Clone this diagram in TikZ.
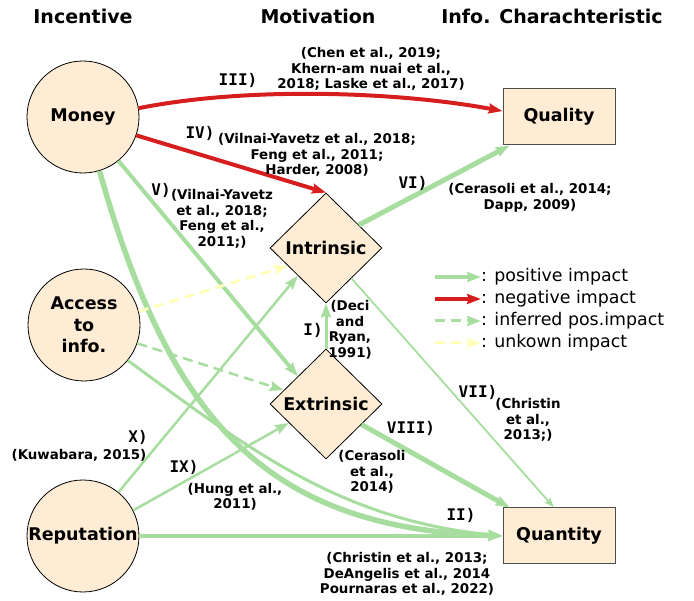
\documentclass[tikz,border=0pt]{standalone}
\usepackage{fontspec}
\setmainfont{DejaVu Sans}
\newfontfamily\numfont{DejaVu Sans Mono}
\usetikzlibrary{shapes.geometric,arrows.meta}
\definecolor{posgreen}{RGB}{168,221,160}
\definecolor{negred}{RGB}{214,30,30}
\definecolor{unkyellow}{RGB}{255,255,185}
\definecolor{boxfill}{RGB}{255,236,212}

\begin{document}
\begin{tikzpicture}[x=1pt,y=-1pt,
	incentive/.style={circle,draw=black,line width=0.8pt,fill=boxfill,minimum size=112pt,inner sep=-4pt,align=center,font=\bfseries\fontsize{17.5}{21.5}\selectfont},
	motive/.style={diamond,aspect=1,draw=black,line width=0.8pt,fill=boxfill,minimum width=112pt,minimum height=110pt,inner sep=0pt,font=\bfseries\fontsize{17.5}{21}\selectfont},
	infobox/.style={rectangle,draw=black!70,line width=1pt,fill=boxfill,minimum width=112pt,minimum height=56pt,font=\bfseries\fontsize{17.5}{21}\selectfont},
	header/.style={font=\bfseries\fontsize{19}{23}\selectfont},
	refs/.style={align=center,font=\bfseries\fontsize{13.4}{15.5}\selectfont},
	num/.style={font=\numfont\bfseries\fontsize{16}{19}\selectfont},
	legtext/.style={anchor=west,inner sep=0pt,font=\fontsize{17.4}{20}\selectfont},
	impacttip/.style={-{Stealth[length=14pt,width=10pt,inset=2pt]}},
	posimp/.style={draw=posgreen,impacttip},
	negimp/.style={draw=negred,line width=4pt,impacttip},
	inferredimp/.style={draw=posgreen,line width=2.5pt,dash pattern=on 10pt off 6pt,impacttip},
	unknownimp/.style={draw=unkyellow,line width=3pt,dash pattern=on 10pt off 6pt,impacttip}]
	\useasboundingbox (0,0) rectangle (694,601);

	% column headers
	\node[header] (hinc) at (83,16) {Incentive};
	\node[header] (hmot) at (318,16) {Motivation};
	\node[header] (hinfo) at (552,16) {Info. Charachteristic};

	% nodes
	\node[incentive] (money) at (83,117) {Money};
	\node[incentive] (access) at (84,325) {Access\\to\\info.};
	\node[incentive] (reput) at (83,536) {Reputation};
	\node[motive] (intrinsic) at (326,248) {Intrinsic};
	\node[motive] (extrinsic) at (326,404) {Extrinsic};
	\node[infobox] (quality) at (559,117) {Quality};
	\node[infobox] (quantity) at (559,536) {Quantity};

	% impacts
	\draw[posimp,line width=5.5pt] (money.-73) .. controls (170,420) and (265,528) .. (quantity.west);
	\draw[posimp,line width=3pt] (access.-39) .. controls (250,450) and (340,520) .. (quantity.west);
	\draw[posimp,line width=3.5pt] (reput.east) -- (quantity.west);
	\draw[negimp] (money.9) .. controls (250,86) and (400,92) .. (quality.174);
	\draw[negimp] (money.-19) -- (intrinsic.north);
	\draw[posimp,line width=4pt] (money.-51) -- (extrinsic.north west);
	\draw[posimp,line width=5pt] (intrinsic.35) -- (quality.-150);
	\draw[posimp,line width=1.8pt,-{Stealth[length=10pt,width=7pt,inset=1.5pt]}] (intrinsic.-50) -- (quantity.100);
	\draw[posimp,line width=3pt] (extrinsic.north) -- (intrinsic.south);
	\draw[posimp,line width=5pt] (extrinsic.-30) -- (quantity.150);
	\draw[unknownimp] (access.14) -- (intrinsic.205);
	\draw[inferredimp] (access.-19) -- (extrinsic.162);
	\draw[posimp,line width=2.5pt] (reput.51) -- (intrinsic.south west);
	\draw[posimp,line width=2.5pt] (reput.27) -- (extrinsic.207);

	% labels
	\node[num] (n3) at (238,80) {III)};
	\node[refs] (r3) at (371,69) {(Chen et al., 2019;\\Khern-am nuai et al.,\\2018; Laske et al., 2017)};
	\node[num] (n4) at (200,133) {IV)};
	\node[refs] (r4) at (317,155) {(Vilnai-Yavetz et al., 2018;\\Feng et al., 2011;\\Harder, 2008)};
	\node[num] (n5) at (161,190) {V)};
	\node[refs] (r5) at (222,219) {(Vilnai-Yavetz\\et al., 2018;\\Feng et al.,\\2011;)};
	\node[num] (n6) at (413,183) {VI)};
	\node[refs] (r6) at (530,198) {(Cerasoli et al., 2014;\\Dapp, 2009)};
	\node[num] (n1) at (313,330) {I)};
	\node[refs] (r1) at (350,330) {(Deci\\and\\Ryan,\\1991)};
	\node[num] (n7) at (478,392) {VII)};
	\node[refs] (r7) at (528,420) {(Christin\\et al.,\\2013;)};
	\node[num] (n8) at (411,428) {VIII)};
	\node[refs] (r8) at (372,472) {(Cerasoli\\et al.,\\2014)};
	\node[num] (n2) at (461,515) {II)};
	\node[refs] (r2) at (407,574) {(Christin et al., 2013;\\DeAngelis et al., 2014\\Pournaras et al., 2022)};
	\node[num] (n10) at (138,437) {X)};
	\node[refs] (r10) at (79,455) {(Kuwabara, 2015)};
	\node[num] (n9) at (184,467) {IX)};
	\node[refs] (r9) at (235,497) {(Hung et al.,\\2011)};

	% legend
	\coordinate (lg1) at (435,277);
	\coordinate (lg2) at (435,299);
	\coordinate (lg3) at (435,321);
	\coordinate (lg4) at (435,343);
	\node[legtext] (lt1) at (481,277) {: positive impact};
	\node[legtext] (lt2) at (481,299) {: negative impact};
	\node[legtext] (lt3) at (481,321) {: inferred pos.impact};
	\node[legtext] (lt4) at (481,343) {: unkown impact};
	\draw[posimp,line width=3.5pt] (lg1) -- (lt1.west);
	\draw[negimp,line width=3.5pt] (lg2) -- (lt2.west);
	\draw[inferredimp,line width=3pt] (lg3) -- (lt3.west);
	\draw[unknownimp] (lg4) -- (lt4.west);
\end{tikzpicture}
\end{document}
